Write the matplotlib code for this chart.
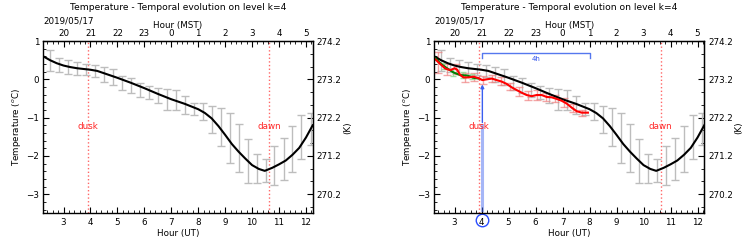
import matplotlib
matplotlib.use('Agg')
import matplotlib.pyplot as plt
from matplotlib.ticker import AutoMinorLocator

# mean temperature curve (UT hours, deg C)
mean_ut = [2.25, 2.5, 2.75, 3.0, 3.25, 3.5, 3.75, 4.0, 4.25, 4.5, 4.75, 5.0, 5.5, 6.0, 6.5, 7.0,
           7.5, 8.0, 8.25, 8.5, 8.75, 9.0, 9.25, 9.5, 9.75, 10.0, 10.25, 10.47, 10.75, 11.0,
           11.25, 11.5, 11.75, 12.0, 12.25]
mean_temp = [0.60, 0.50, 0.42, 0.36, 0.32, 0.29, 0.27, 0.25, 0.22, 0.16, 0.10, 0.04, -0.09, -0.23,
             -0.38, -0.52, -0.64, -0.78, -0.88, -1.02, -1.22, -1.45, -1.69, -1.89, -2.07, -2.24,
             -2.34, -2.39, -2.31, -2.22, -2.12, -1.97, -1.79, -1.52, -1.20]

# spread of the observations (gray bars)
bar_ut = [2.5, 2.83, 3.17, 3.5, 3.83, 4.17, 4.5, 4.83, 5.17, 5.5, 5.83, 6.17, 6.5, 6.83, 7.17,
          7.5, 7.83, 8.17, 8.5, 8.83, 9.17, 9.5, 9.83, 10.17, 10.5, 10.83, 11.17, 11.5, 11.83, 12.17]
bar_top = [0.77, 0.57, 0.50, 0.45, 0.40, 0.38, 0.31, 0.26, 0.10, 0.03, -0.10, -0.17, -0.23, -0.25,
           -0.28, -0.44, -0.61, -0.63, -0.69, -0.75, -0.89, -1.17, -1.55, -1.94, -2.07, -1.75,
           -1.52, -1.23, -0.94, -0.88]
bar_bot = [0.22, 0.20, 0.13, 0.12, 0.12, 0.05, -0.06, -0.15, -0.29, -0.35, -0.45, -0.52, -0.61,
           -0.80, -0.81, -0.90, -0.92, -1.05, -1.40, -1.75, -2.19, -2.42, -2.71, -2.71, -2.69,
           -2.75, -2.64, -2.43, -2.07, -1.72]

# observed day (red) and short run (green)
red_ut = [2.29, 2.47, 2.66, 2.85, 3.0, 3.1, 3.2, 3.33, 3.52, 3.70, 3.89, 4.03, 4.19, 4.38, 4.56,
          4.75, 4.93, 5.12, 5.30, 5.49, 5.67, 5.86, 6.04, 6.23, 6.41, 6.6, 6.78, 6.97, 7.15, 7.34,
          7.52, 7.71, 7.94]
red_temp = [0.52, 0.40, 0.28, 0.24, 0.29, 0.25, 0.12, 0.05, 0.05, 0.07, 0.03, -0.02, 0.0, 0.02,
            -0.02, -0.06, -0.12, -0.21, -0.28, -0.35, -0.41, -0.44, -0.41, -0.41, -0.46, -0.47,
            -0.51, -0.56, -0.63, -0.74, -0.83, -0.87, -0.87]
rbar_ut = [2.4, 2.73, 3.07, 3.4, 3.73, 4.07, 4.4, 4.73, 5.07, 5.4, 5.73, 6.07, 6.4, 6.73, 7.07,
           7.4, 7.73]
rbar_mid = [0.44, 0.26, 0.27, 0.05, 0.06, -0.01, 0.02, -0.05, -0.19, -0.31, -0.42, -0.41, -0.46,
            -0.50, -0.60, -0.75, -0.87]
rbar_err = [0.28, 0.15, 0.14, 0.12, 0.10, 0.10, 0.10, 0.10, 0.10, 0.12, 0.12, 0.12, 0.10, 0.10,
            0.12, 0.10, 0.08]
green_ut = [2.29, 2.5, 2.72, 2.96, 3.21, 3.46, 3.70, 3.89]
green_temp = [0.55, 0.40, 0.29, 0.18, 0.11, 0.10, 0.04, 0.02]
gbar_ut = [2.6, 2.95, 3.3, 3.65]
gbar_mid = [0.34, 0.18, 0.11, 0.07]
gbar_err = [0.08, 0.08, 0.07, 0.07]

ut_ticks = [3, 4, 5, 6, 7, 8, 9, 10, 11, 12]
mst_labels = ['20', '21', '22', '23', '0', '1', '2', '3', '4', '5']
k_ticks = [270.2, 271.2, 272.2, 273.2, 274.2]
dusk, dawn = 3.9, 10.63
t_start, t_len = 4.03, 4

FS = 6.3
plt.rcParams['font.size'] = FS


def base(ax):
    ax.set_xlim(2.25, 12.25)
    ax.set_ylim(-3.5, 1)
    ax.set_xticks(ut_ticks)
    ax.set_yticks([-3, -2, -1, 0, 1])
    ax.xaxis.set_minor_locator(AutoMinorLocator(5))
    ax.yaxis.set_minor_locator(AutoMinorLocator(5))
    ax.tick_params(which='both', direction='in', labelsize=FS, pad=3)
    ax.tick_params(which='major', length=4)
    ax.tick_params(which='minor', length=2)
    ax.set_xlabel('Hour (UT)', fontsize=FS, labelpad=2)
    ax.set_ylabel(r'Temperature ($^o$C)', fontsize=FS, labelpad=2)
    # top axis in local time
    top = ax.secondary_xaxis('top')
    top.set_xticks(ut_ticks, labels=mst_labels)
    top.xaxis.set_minor_locator(AutoMinorLocator(5))
    top.tick_params(which='both', direction='in', labelsize=FS, pad=2)
    top.tick_params(which='major', length=4)
    top.tick_params(which='minor', length=2)
    top.set_xlabel('Hour (MST)', fontsize=FS, labelpad=1)
    # right axis in Kelvin
    right = ax.secondary_yaxis('right', functions=(lambda c: c + 273.2, lambda k: k - 273.2))
    right.set_yticks(k_ticks, labels=['%.1f' % k for k in k_ticks])
    right.yaxis.set_minor_locator(AutoMinorLocator(3))
    right.tick_params(which='both', direction='in', labelsize=FS, pad=3)
    right.tick_params(which='major', length=4)
    right.tick_params(which='minor', length=2)
    right.set_ylabel('(K)', fontsize=FS, labelpad=1)
    ax.text(0.0, 1.118, '2019/05/17', transform=ax.transAxes, fontsize=FS, ha='left', va='center')
    ax.set_title('Temperature - Temporal evolution on level k=4', fontsize=6.6, pad=22)
    # dusk / dawn
    for t, name in [(dusk, 'dusk'), (dawn, 'dawn')]:
        ax.axvline(t, color='red', ls=':', lw=1, alpha=0.6)
        ax.text(t, -1.22, name, color='red', fontsize=FS, ha='center', va='center', alpha=0.85)
    # spread and mean
    mid = [(a + b) / 2 for a, b in zip(bar_top, bar_bot)]
    err = [(a - b) / 2 for a, b in zip(bar_top, bar_bot)]
    ax.errorbar(bar_ut, mid, yerr=err, fmt='none', ecolor='#bdbdbd', elinewidth=1, capsize=3)
    for s in ax.spines.values():
        s.set_linewidth(1)


fig = plt.figure(figsize=(7.47, 2.40), dpi=100)
ax1 = fig.add_axes([0.058, 0.111, 0.3606, 0.718])
ax2 = fig.add_axes([0.5814, 0.111, 0.3614, 0.718])

base(ax1)
ax1.plot(mean_ut, mean_temp, color='black', lw=1.5)

base(ax2)
ax2.errorbar(rbar_ut, rbar_mid, yerr=rbar_err, fmt='none', ecolor='#f08080', elinewidth=1,
             capsize=3, alpha=0.7)
ax2.errorbar(gbar_ut, gbar_mid, yerr=gbar_err, fmt='none', ecolor='#90d890', elinewidth=1,
             capsize=2, alpha=0.8)
ax2.plot(mean_ut, mean_temp, color='black', lw=1.5)
ax2.plot(green_ut, green_temp, color='green', lw=1.5)
ax2.plot(red_ut, red_temp, color='red', lw=1.5)

# time window marker
ax2.plot([t_start, t_start], [-3.4, -1.2], color='#4d6ff0', lw=2.2, alpha=0.5)
ax2.annotate('', xy=(t_start, -0.06), xytext=(t_start, -1.2),
             arrowprops=dict(arrowstyle='-|>', color='#3a5ef0', lw=1, mutation_scale=5))
t_end = t_start + t_len
ax2.plot([t_start, t_start, t_end, t_end], [0.56, 0.68, 0.68, 0.56], color='#5577ee', lw=1)
ax2.text((t_start + t_end) / 2, 0.52, '%dh' % t_len, color='#3355ee', fontsize=5,
         ha='center', va='center')
ax2.plot([t_start], [-0.04], transform=ax2.get_xaxis_transform(), marker='o', ms=9,
         mfc='none', mec='#2a4dff', mew=1, clip_on=False)

fig.savefig('out.png', dpi=100)
